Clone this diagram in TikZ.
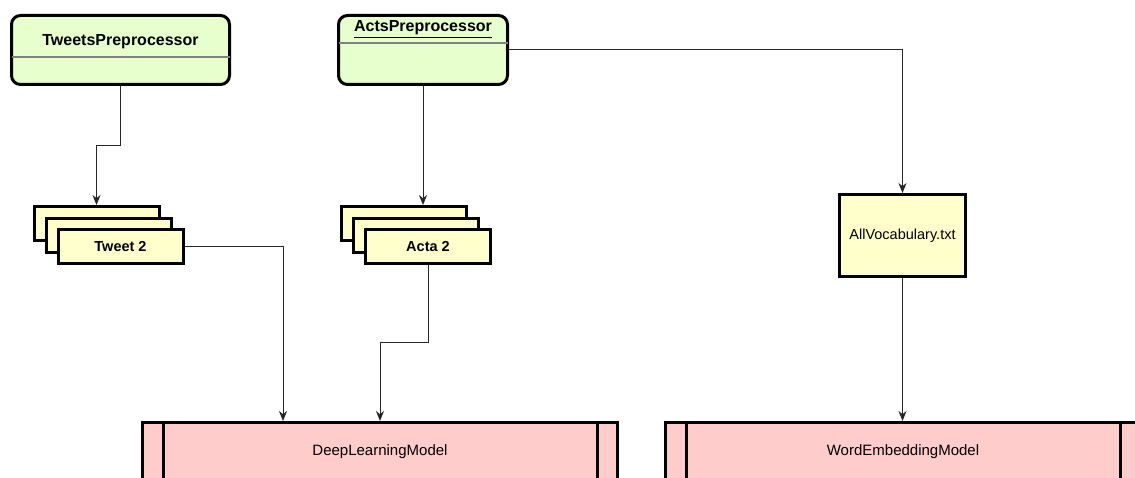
\documentclass[tikz,border=0pt]{standalone}
\usepackage{fontspec}
\setmainfont{Liberation Sans}
\usepackage{tikz}
\usetikzlibrary{arrows.meta,positioning,calc}
\definecolor{prepFill}{HTML}{E6FFCC}
\definecolor{docFill}{HTML}{FFFFCC}
\definecolor{modelFill}{HTML}{FFCCCC}
\definecolor{divGray}{HTML}{808080}
\tikzset{
  box/.style={draw, line width=3pt, inner sep=0pt, align=center},
  prep/.style={box, rounded corners=9pt, fill=prepFill, minimum height=69pt},
  doc/.style={box, fill=docFill, minimum width=125pt, minimum height=34pt,
    font=\fontsize{14.5}{16}\selectfont\bfseries},
  model/.style={box, fill=modelFill, minimum width=475pt, minimum height=59pt,
    font=\fontsize{15}{17}\selectfont},
}

\begin{document}
\begin{tikzpicture}[x=1pt, y=-1pt,
  ttl/.style={font=\fontsize{16}{18}\selectfont\bfseries, anchor=base, inner sep=0pt},
  divline/.style={draw=divGray, line width=2pt},
  bar/.style={line width=3pt},
  conn/.style={draw=black!85, line width=1pt, ->},
  >={Stealth[length=10pt, width=8pt]}]
\useasboundingbox (0,0) rectangle (1135,478);
\node[prep, minimum width=218pt] (tp) at (120.5,50) {};
\node[prep, minimum width=169pt] (ap) at (423,50) {};
\draw[divline] ($(tp.north west)+(1.5,43)$) -- ($(tp.north east)+(-1.5,43)$);
\draw[divline] ($(ap.north west)+(1.5,29)$) -- ($(ap.north east)+(-1.5,29)$);
\node[ttl] (tpt) at (120.5,46) {TweetsPreprocessor};
\node[ttl] (apt) at (423,32) {\underline{ActsPreprocessor}};
\foreach \s/\x/\t in {tw/96.5/Tweet 2, ac/404/Acta 2}{
  \foreach \i in {1,2,3}{
    \node[doc] (\s\i) at ({\x+12*(\i-1)},{223.5+11.75*(\i-1)}) {\ifnum\i=3 \t\fi};
  }
}
\node[box, fill=docFill, minimum width=126pt, minimum height=82pt,
  font=\fontsize{14.5}{16}\selectfont] (av) at (902.5,235.5) {AllVocabulary.txt};
\node[model] (dl) at (380,452) {DeepLearningModel};
\node[model] (we) at (903,452) {WordEmbeddingModel};
\foreach \m in {dl,we}{
  \draw[bar] ($(\m.north west)+(22,0)$) -- ($(\m.south west)+(22,0)$);
  \draw[bar] ($(\m.north east)+(-22,0)$) -- ($(\m.south east)+(-22,0)$);
}
\draw[conn] (tp.south) -- ++(0,60) -| (tw1.north);
\draw[conn] (ap.south) -- (ap.south |- ac1.north);
\draw[conn] (ap.east) -| (av.north);
\draw[conn] (tw3.east) -| ($(dl.north west)+(142,0)$);
\draw[conn] (ac3.south) -- ++(0,77) -| (dl.north);
\draw[conn] (av.south) -- (av.south |- we.north);
\end{tikzpicture}
\end{document}
